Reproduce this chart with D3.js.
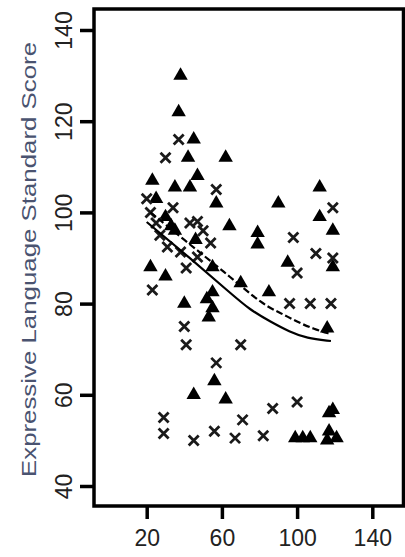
<!DOCTYPE html>
<html><head><meta charset="utf-8">
<script src="https://cdn.jsdelivr.net/npm/d3@7"></script>
<style>html,body{margin:0;padding:0;background:#fff;}</style>
</head><body>
<svg id="c" width="405" height="557"></svg>
<script>
// Group 1 (filled triangles): age, score
const triX = [38,37,45,42,62,47,23,35,43,57,64,33,30,35,22,30,40,52,55,53,55,56,45,62,112,90,112,119,79,79,95,119,70,85,116,119,99,103,107,117,117,116,121,55,25,46];
const triY = [130,122,116,112,112,108,107,105.5,105.5,102,97,97,99,96,88,86,80,81,79,77,82.5,63,60,59,105.5,102,99,96,95.5,93,89,88,84.5,82.5,74.6,56.7,50.5,50.5,50.5,56,52,50,50.5,88,103,94];
// Group 2 (crosses): age, score
const crsX = [37,30,57,20,47,25,22,43,31,38,47,54,41,23,40,41,70,57,29,29,45,56,67,71,87,100,82,119,98,110,100,119,96,107,118,27,50,34];
const crsY = [116,112,105,103,98,97.7,100,97.7,92.4,91.3,90.2,93.3,87.8,83,75,71,71,67,55,51.5,50,52,50.5,54.5,57,58.4,51,101,94.5,91,86.7,90,80,80,80,95,96,101];
// Fitted curves
const solidX = [20,43,64,75,86,96,105,118];
const solidY = [97.9,90,82.5,78.6,76,73.8,72.4,71.8];
const dashX = [22,48,64,82,91,100,109,118];
const dashY = [100,91.3,86,79.7,78,76,74.4,73.3];
// Axis ticks
const xTicks = [20,60,100,140];
const yTicks = [40,60,80,100,120,140];
const yTitle = "Expressive Language Standard Score";

const svg = d3.select("#c");
const x = d3.scaleLinear().domain([20,140]).range([146.7,372.3]);
const y = d3.scaleLinear().domain([40,140]).range([486,30]);

const frame = {l:94, r:403.5, t:9, b:506};
svg.append("rect").attr("x",frame.l).attr("y",frame.t)
  .attr("width",frame.r-frame.l).attr("height",frame.b-frame.t)
  .attr("fill","none").attr("stroke","#000").attr("stroke-width",3.5);

// axes
const yAxis = d3.axisLeft(y).tickValues(yTicks).tickSize(14).tickFormat(d3.format("d"));
const gy = svg.append("g").attr("transform",`translate(${frame.l},0)`).call(yAxis);
gy.select(".domain").remove();
gy.selectAll(".tick line").attr("stroke","#000").attr("stroke-width",3.5);
gy.selectAll(".tick text").attr("transform","rotate(-90)").attr("x",0).attr("y",-22)
  .attr("dy",0).attr("text-anchor","middle")
  .style("font-family","'Liberation Sans',Arial,sans-serif").style("font-size","23px").attr("fill","#222");

const xAxis = d3.axisBottom(x).tickValues(xTicks).tickSize(13).tickFormat(d3.format("d"));
const gx = svg.append("g").attr("transform",`translate(0,${frame.b})`).call(xAxis);
gx.select(".domain").remove();
gx.selectAll(".tick line").attr("stroke","#000").attr("stroke-width",3.5);
gx.selectAll(".tick text").attr("y",40).attr("dy",0)
  .style("font-family","'Liberation Sans',Arial,sans-serif").style("font-size","23px").attr("fill","#222");

svg.append("text")
  .attr("transform",`translate(36,${(42+477)/2}) rotate(-90)`)
  .attr("text-anchor","middle")
  .attr("textLength",435).attr("lengthAdjust","spacingAndGlyphs")
  .style("font-family","'Liberation Sans',Arial,sans-serif").style("font-size","20px")
  .attr("fill","#4a5370").text(yTitle);

// points
const tri = d3.symbol().type(d3.symbolTriangle).size(90);
svg.append("g").selectAll("path").data(triX.map((d,i)=>[d,triY[i]])).join("path")
  .attr("d",tri).attr("transform",d=>`translate(${x(d[0])},${y(d[1])})`).attr("fill","#000");

const h = 5;
svg.append("g").selectAll("path").data(crsX.map((d,i)=>[d,crsY[i]])).join("path")
  .attr("d",`M${-h},${-h}L${h},${h}M${-h},${h}L${h},${-h}`)
  .attr("transform",d=>`translate(${x(d[0])},${y(d[1])})`)
  .attr("stroke","#1a1a1a").attr("stroke-width",2.8).attr("fill","none");

// lines
const line = d3.line().x(d=>x(d[0])).y(d=>y(d[1])).curve(d3.curveBasis);
svg.append("path").datum(solidX.map((d,i)=>[d,solidY[i]])).attr("d",line)
  .attr("fill","none").attr("stroke","#000").attr("stroke-width",2.2);
svg.append("path").datum(dashX.map((d,i)=>[d,dashY[i]])).attr("d",line)
  .attr("fill","none").attr("stroke","#000").attr("stroke-width",2.2).attr("stroke-dasharray","7,3");
</script>
</body></html>
